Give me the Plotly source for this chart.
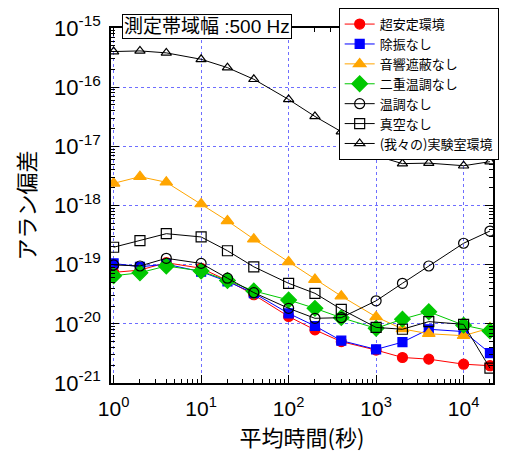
import plotly.graph_objects as go

tau = [1, 2, 4, 10, 20, 40, 100, 200, 400, 1000, 2000, 4000, 10000, 20000]

names = ["超安定環境", "除振なし", "音響遮蔽なし", "二重温調なし", "温調なし", "真空なし", "(我々の)実験室環境"]

ultra_stable = [7.4e-20, 8.1e-20, 1.08e-19, 8.7e-20, 5.4e-20, 3.1e-20, 1.33e-20, 7.9e-21,
                5.0e-21, 3.6e-21, 2.7e-21, 2.53e-21, 2.08e-21, 1.96e-21]
no_isolation = [1.05e-19, 9.2e-20, 1.02e-19, 7.6e-20, 5.2e-20, 3.3e-20, 1.5e-20, 9.2e-21,
                5.2e-21, 3.7e-21, 4.9e-21, 8.1e-21, 7.4e-21, 3.2e-21]
no_acoustic = [2.37e-18, 3.07e-18, 2.47e-18, 1.06e-18, 5.5e-19, 2.7e-19, 1.11e-19, 5.6e-20,
               2.94e-20, 1.31e-20, 8.2e-21, 6.8e-21, 6.3e-21, 8.5e-21]
no_double_temp = [6.5e-20, 7.3e-20, 9.5e-20, 7.8e-20, 5.4e-20, 3.6e-20, 2.53e-20, 1.83e-20,
                  1.27e-20, 8.4e-21, 1.2e-20, 1.6e-20, 9.5e-21, 7.6e-21]
no_temp = [9.9e-20, 9.5e-20, 1.28e-19, 1.05e-19, 5.9e-20, 3.37e-20, 1.83e-20, 1.24e-20,
           1.27e-20, 2.45e-20, 4.84e-20, 9.5e-20, 2.3e-19, 3.7e-19]
no_vacuum = [1.97e-19, 2.54e-19, 3.34e-19, 2.94e-19, 1.72e-19, 9.2e-20, 4.84e-20, 3.28e-20,
             1.76e-20, 8.7e-21, 8.1e-21, 1.09e-20, 9.8e-21, 1.78e-21]
our_lab = [4.0e-16, 4.1e-16, 3.8e-16, 2.96e-16, 2.14e-16, 1.36e-16, 6.2e-17, 3.2e-17,
           1.77e-17, 6.9e-18, 5.1e-18, 5.2e-18, 4.7e-18, 5.5e-18]

y_tickvals = [1e-21, 1e-20, 1e-19, 1e-18, 1e-17, 1e-16, 1e-15]
y_ticktext = ["10<sup>-21</sup>", "10<sup>-20</sup>", "10<sup>-19</sup>", "10<sup>-18</sup>",
              "10<sup>-17</sup>", "10<sup>-16</sup>", "10<sup>-15</sup>"]
x_tickvals = [1, 10, 100, 1000, 10000]
x_ticktext = ["10<sup>0</sup>", "10<sup>1</sup>", "10<sup>2</sup>", "10<sup>3</sup>", "10<sup>4</sup>"]

series = [
    (ultra_stable, "#ff0000", "circle", 10),
    (no_isolation, "#0000ff", "square", 9),
    (no_acoustic, "#ffa500", "triangle-up", 11),
    (no_double_temp, "#00c800", "diamond", 12),
    (no_temp, "#000000", "circle-open", 10),
    (no_vacuum, "#000000", "square-open", 10),
    (our_lab, "#000000", "triangle-up-open", 9),
]

fig = go.Figure()
for name, (vals, color, sym, sz) in zip(names, series):
    fig.add_trace(go.Scatter(
        x=tau, y=vals, name=name, mode="lines+markers",
        line=dict(color=color, width=1),
        marker=dict(color=color, symbol=sym, size=sz, line=dict(color=color, width=1.2)),
    ))

font_family = "Liberation Sans, Arial, Noto Sans CJK JP"

# page body adds an 8px margin, so the figure is 8px smaller and margins compensate
fig.update_layout(
    width=512, height=444,
    margin=dict(l=103, r=27, t=20, b=69, autoexpand=False),
    paper_bgcolor="white", plot_bgcolor="white",
    font=dict(family=font_family, color="black"),
    showlegend=True,
    legend=dict(
        x=0.596, y=1.056, xanchor="left", yanchor="top",
        bgcolor="white", bordercolor="black", borderwidth=1,
        font=dict(size=13, family="Noto Sans CJK JP"),
        tracegroupgap=0, itemwidth=30,
    ),
    annotations=[dict(
        text="測定帯域幅 :500 Hz", xref="paper", yref="paper",
        x=0.029, y=1.003, xanchor="left", yanchor="middle", showarrow=False,
        font=dict(size=19, family="Liberation Sans, Noto Sans CJK JP"),
        bgcolor="white", bordercolor="black", borderwidth=1, borderpad=1,
    )],
)

fig.update_xaxes(
    type="log", range=[-0.03, 4.336],
    tickvals=x_tickvals, ticktext=x_ticktext,
    tickfont=dict(size=21), ticks="inside", ticklen=8, tickcolor="black",
    ticklabelstandoff=6,
    minor=dict(ticks="inside", ticklen=4, dtick="D1", tickcolor="black", showgrid=False),
    showline=True, linecolor="black", linewidth=1.5, mirror="ticks",
    showgrid=True, gridcolor="rgb(110,110,255)", griddash="dot", gridwidth=1,
    title=dict(text="平均時間(秒)", font=dict(size=22, family="Noto Sans CJK JP"), standoff=3),
    zeroline=False,
)
fig.update_yaxes(
    type="log", range=[-21, -15],
    tickvals=y_tickvals, ticktext=y_ticktext,
    tickfont=dict(size=22), ticks="inside", ticklen=8, tickcolor="black",
    ticklabelstandoff=4,
    minor=dict(ticks="inside", ticklen=4, dtick="D1", tickcolor="black", showgrid=False),
    showline=True, linecolor="black", linewidth=1.5, mirror="ticks",
    showgrid=True, gridcolor="rgb(110,110,255)", griddash="dot", gridwidth=1,
    title=dict(text="アラン偏差", font=dict(size=22, family="Noto Sans CJK JP"), standoff=12),
    zeroline=False,
)

fig.write_html("out.html")
